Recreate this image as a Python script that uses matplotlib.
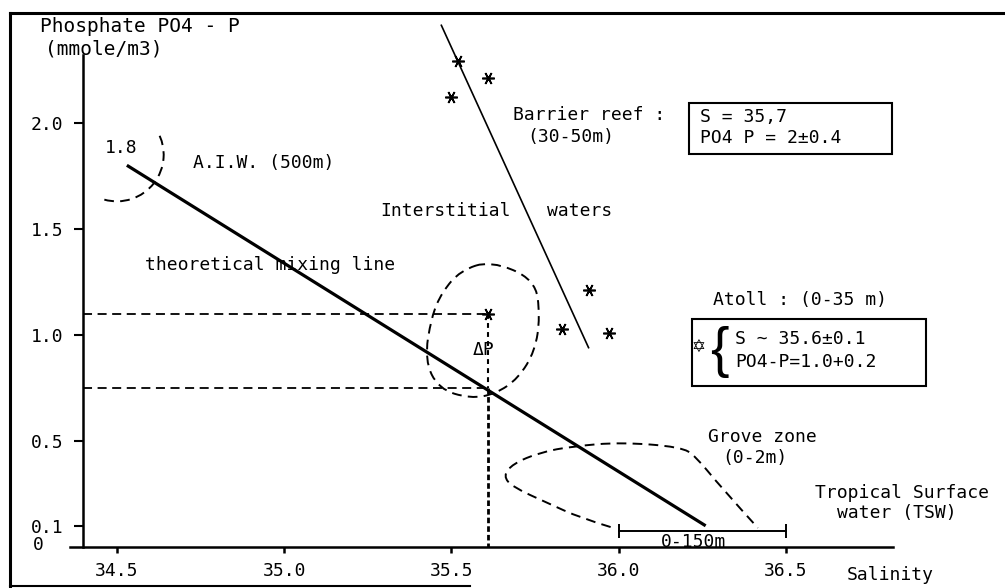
import numpy as np
import matplotlib
matplotlib.use("Agg")
import matplotlib.pyplot as plt
from matplotlib.path import Path
from matplotlib.patches import PathPatch, Arc, Rectangle
from matplotlib.lines import Line2D

plt.rcParams['font.family'] = ['DejaVu Sans Mono', 'DejaVu Sans']
plt.rcParams['lines.scale_dashes'] = False

# ---------------- data ----------------
x_ticks = [34.5, 35.0, 35.5, 36.0, 36.5]
x_tick_labels = ['34.5', '35.0', '35.5', '36.0', '36.5']
y_ticks = [0.1, 0.5, 1.0, 1.5, 2.0]
y_tick_labels = ['0.1', '0.5', '1.0', '1.5', '2.0']

mixing_s = [34.53, 36.26]          # theoretical mixing line AIW -> TSW
mixing_p = [1.80, 0.10]

reef_line_s = [35.47, 35.91]       # interstitial waters trend
reef_line_p = [2.46, 0.94]

reef_s = [35.52, 35.61, 35.50, 35.91, 35.83, 35.97]   # barrier reef samples
reef_p = [2.29, 2.21, 2.12, 1.21, 1.03, 1.01]

atoll_s = 35.61                    # atoll mean point
atoll_p = 1.10
mixing_at_atoll_p = 0.75           # mixing-line value at atoll salinity

aiw_centre_s, aiw_centre_p = 34.50, 1.85   # A.I.W. envelope

atoll_env_s = [35.617, 35.751, 35.765, 35.750, 35.700, 35.632, 35.557, 35.462, 35.420, 35.440, 35.472, 35.527]
atoll_env_p = [1.350, 1.262, 1.085, 0.925, 0.795, 0.722, 0.700, 0.745, 0.882, 1.085, 1.202, 1.303]

grove_env_s = [35.976, 35.886, 35.787, 35.683, 35.655, 35.683, 35.766, 35.865, 36.006, 36.186, 36.230, 36.305, 36.416]
grove_env_p = [0.094, 0.137, 0.208, 0.283, 0.335, 0.392, 0.447, 0.475, 0.494, 0.472, 0.428, 0.283, 0.090]

tsw_range_s = [36.0, 36.5]         # TSW salinity range 0-150 m
tsw_range_p = 0.075

# ---------------- figure ----------------
W, H = 1005, 588
fig = plt.figure(figsize=(W / 100, H / 100), dpi=100)
fig.patch.set_facecolor('white')
ax = fig.add_axes([70 / W, 1 - 547 / H, 823 / W, 492 / H])
ax.set_xlim(34.36, 36.82)
ax.set_ylim(0, 2.32)
ax.patch.set_alpha(0)

for s in ['top', 'right']:
    ax.spines[s].set_visible(False)
ax.spines['left'].set_position(('data', 34.4))
ax.spines['left'].set_linewidth(1.8)
ax.spines['bottom'].set_linewidth(1.8)

ax.set_xticks(x_ticks, x_tick_labels)
ax.set_yticks(y_ticks, y_tick_labels)
ax.tick_params(axis='x', direction='out', length=4.5, width=1.8, pad=6, labelsize=13)
ax.tick_params(axis='y', direction='out', length=6.5, width=1.5, pad=8, labelsize=13)

# mixing line
ax.plot(mixing_s, mixing_p, color='black', lw=2.3, solid_capstyle='butt', clip_on=False)
# interstitial / barrier reef trend
ax.plot(reef_line_s, reef_line_p, color='black', lw=1.2, clip_on=False)
# samples
star6 = (6, 2, 90)
ax.plot(reef_s, reef_p, linestyle='none', marker=star6, ms=9, mew=1.2, color='black', clip_on=False)
ax.plot([atoll_s], [atoll_p], linestyle='none', marker=star6, ms=9, mew=1.2, color='black', clip_on=False)

# delta-P construction lines
dash_h = (0, (6.5, 4.0))
ax.plot([34.4, atoll_s], [atoll_p, atoll_p], color='black', lw=1.3, ls=dash_h)
ax.plot([34.4, atoll_s], [mixing_at_atoll_p, mixing_at_atoll_p], color='black', lw=1.3, ls=dash_h)
ax.plot([atoll_s, atoll_s], [atoll_p, mixing_at_atoll_p], color='black', lw=1.5, ls=(0, (3.5, 3.0)))
ax.plot([atoll_s, atoll_s], [mixing_at_atoll_p, 0], color='black', lw=2.0, ls=(0, (4.0, 2.2)))


def bspline_path(xs, ys, closed):
    P = np.column_stack([xs, ys])
    n = len(P)
    verts, codes = [], []
    if closed:
        verts.append((P[-1] + P[0]) / 2)
        codes.append(Path.MOVETO)
        for i in range(n):
            verts += [P[i], (P[i] + P[(i + 1) % n]) / 2]
            codes += [Path.CURVE3, Path.CURVE3]
    else:
        verts.append(P[0])
        codes.append(Path.MOVETO)
        for i in range(1, n - 1):
            end = (P[i] + P[i + 1]) / 2 if i < n - 2 else P[n - 1]
            verts += [P[i], end]
            codes += [Path.CURVE3, Path.CURVE3]
    return Path(verts, codes)


env_ls = (0, (7.0, 4.5))
ax.add_patch(PathPatch(bspline_path(atoll_env_s, atoll_env_p, True), fill=False,
                       ec='black', lw=1.4, ls=env_ls, clip_on=False))
ax.add_patch(PathPatch(bspline_path(grove_env_s, grove_env_p, False), fill=False,
                       ec='black', lw=1.4, ls=env_ls, clip_on=False))
ax.add_patch(Arc((aiw_centre_s, aiw_centre_p), 0.28, 0.44, theta1=-100, theta2=42,
                 ec='black', lw=1.4, ls=env_ls, clip_on=False))

# TSW range bar
ax.plot(tsw_range_s, [tsw_range_p, tsw_range_p], color='black', lw=1.4, clip_on=False,
        marker='|', ms=10, mew=1.4)

# ---------------- text ----------------
def T(x, y, s, ha='left', size=13, **kw):
    fig.text(x / W, 1 - y / H, s, ha=ha, va='center', fontsize=size, **kw)


T(40, 27, 'Phosphate PO4 - P', size=14)
T(45, 49, '(mmole/m3)', size=14)
T(33, 545, '0')
T(105, 148, '1.8')
T(193, 163, 'A.I.W. (500m)')
T(145, 265, 'theoretical mixing line')
T(513, 115, 'Barrier reef :')
T(527, 137, '(30-50m)')
T(700, 117, 'S = 35,7')
T(700, 138, 'PO4 P = 2±0.4')
T(380, 211, 'Interstitial')
T(547, 211, 'waters')
T(713, 300, 'Atoll : (0-35 m)')
T(698, 347, '✡', ha='center', size=12, family='DejaVu Sans')
T(719, 352, '{', ha='center', size=40, family='Liberation Sans')
T(735, 339, 'S ~ 35.6±0.1')
T(735, 362, 'PO4-P=1.0+0.2')
T(473, 350, 'ΔP')
T(708, 437, 'Grove zone')
T(722, 458, '(0-2m)')
T(815, 493, 'Tropical Surface')
T(837, 513, 'water (TSW)')
T(693, 542, '0-150m', ha='center')
T(847, 575, 'Salinity')

# boxes
for (x0, y0, x1, y1) in [(689, 103, 892, 154), (692, 319, 926, 386)]:
    fig.add_artist(Rectangle((x0 / W, 1 - y1 / H), (x1 - x0) / W, (y1 - y0) / H,
                             transform=fig.transFigure, fill=False, ec='black', lw=1.5))

# outer frame
fig.add_artist(Line2D([10 / W, 10 / W], [1 - 13 / H, 1 - 587 / H], transform=fig.transFigure, color='black', lw=2.2))
fig.add_artist(Line2D([10 / W, 1.0], [1 - 13 / H, 1 - 13 / H], transform=fig.transFigure, color='black', lw=2.2))
fig.add_artist(Line2D([10 / W, 470 / W], [1 - 586 / H, 1 - 586 / H], transform=fig.transFigure, color='black', lw=1.5))

fig.savefig('out.png', dpi=100)
